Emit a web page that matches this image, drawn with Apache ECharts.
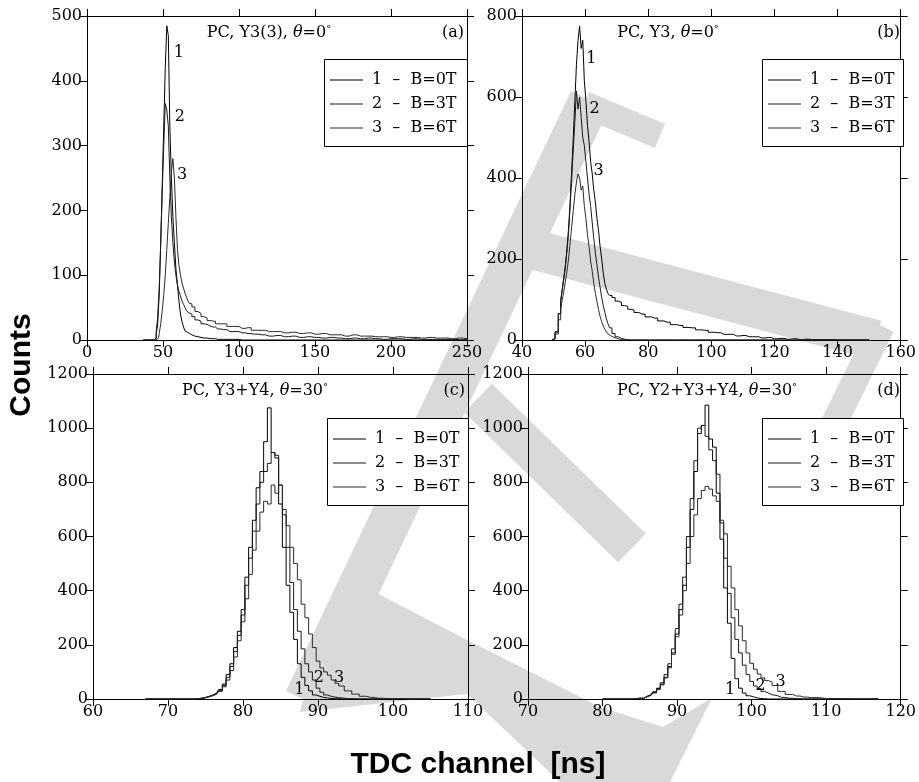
<!DOCTYPE html>
<html><head><meta charset="utf-8">
<script src="https://cdn.jsdelivr.net/npm/echarts@6/dist/echarts.min.js"></script>
<style>html,body{margin:0;padding:0;background:#fff}#c{width:919px;height:782px}</style>
</head><body><div id="c"></div>
<script>
// ---------- data ----------
const seriesNames = ['1  \u2013  B=0T', '2  \u2013  B=3T', '3  \u2013  B=6T'];
const panelTitles = ['PC, Y3(3), ', 'PC, Y3, ', 'PC, Y3+Y4, ', 'PC, Y2+Y3+Y4, '];
const panelAngles = ['0', '0', '30', '30'];
const panelTags = ['(a)', '(b)', '(c)', '(d)'];
const xRanges = [[0, 250, 50], [40, 160, 20], [60, 110, 10], [70, 120, 10]];
const yRanges = [[0, 500, 100], [0, 800, 200], [0, 1200, 200], [0, 1200, 200]];

// panel (a)
const aX = [37,40,44,45,46,47,48,49,50,51,52,53,54,55,56,57,58,59,60,61,62,63,64,65,66,67,68,
  70,72,74,76,78,80, 83,86,90,94,98, 102,106,110,
  115,120,125,130,135,140,145,150,155,160,165,170,175,180,185,190,195,200,205,210,215,220,225,230,235,240,245,250];
const a1 = [0,0,0,2,8,25,70,150,240,330,420,485,470,330,250,190,150,110,85,60,40,28,20,14,12,10,8,
  6,5,4,3,3,2, 2,1,1,1,1, 0,0,0,
  0,0,0,0,0,0,0,0,0,0,0,0,0,0,0,0,0,0,0,0,0,0,0,0,0,0,0,0];
const a2 = [0,0,0,3,12,35,80,150,230,300,365,355,330,250,190,150,120,100,85,75,68,60,55,50,45,42,40,
  36,31,29,25,24,21, 20,17,16,13,13, 11,10,9,
  8,6,7,5,6,4,5,4,3,4,3,2,3,2,3,2,1,2,2,1,2,1,1,1,1,1,0,1];
const a3 = [0,0,0,0,0,3,10,25,45,70,100,140,180,220,260,280,250,190,140,115,100,88,80,72,66,60,56,
  51,44,41,36,34,30, 29,25,25,21,21, 18,19,15,
  15,13,13,11,12,10,11,9,10,8,8,6,8,6,6,5,5,4,5,4,4,3,4,3,3,2,3,2];

// panel (b)
const bX = [49.5,50,51,52,
  52.5,53,53.5,54,54.5,55,55.5,56,56.5,57,57.5,58,58.5,59,59.5,60,60.5,61,61.5,62,62.5,63,63.5,64,64.5,65,65.5,66,66.5,67,67.5,68,
  69,70,71,72,73,74,75,76,
  78,80,82,84,86,88,90,92,94,96,98,100,102,104,106,108,110,112,114,116,118,120,122,124,126,128,130,132,134,136,138,140,142,144,146,148,150];
const b1 = [0,4,20,65,
  95,125,155,185,225,275,340,420,500,590,680,740,775,720,740,640,590,530,490,440,410,370,340,300,270,230,200,165,140,125,115,110,
  105,96,93,85,83,76,74,68,
  64,57,54,47,44,38,36,31,30,25,24,19,18,14,14,10,11,8,8,5,6,3,4,2,3,1,2,1,1,1,1,0,0,0,0,0,0];
const b2 = [0,4,20,65,
  95,125,150,180,220,265,330,400,470,540,615,570,600,550,500,480,440,400,360,330,290,250,215,185,155,130,105,85,68,52,40,30,
  16,8,4,2,1,0,0,0,
  0,0,0,0,0,0,0,0,0,0,0,0,0,0,0,0,0,0,0,0,0,0,0,0,0,0,0,0,0,0,0,0,0,0,0,0,0];
const b3 = [0,3,15,50,
  75,100,120,145,170,200,240,280,320,360,390,410,400,370,380,330,300,260,230,195,170,140,115,95,75,58,45,35,27,20,15,11,
  7,4,2,1,0,0,0,0,
  0,0,0,0,0,0,0,0,0,0,0,0,0,0,0,0,0,0,0,0,0,0,0,0,0,0,0,0,0,0,0,0,0,0,0,0,0];

// panel (c)
const cX = [67,70,72,73,
  74,74.5,75,75.5,76,76.5,77,77.5,78,78.5,79,79.5,80,80.5,81,81.5,82,82.5,83,83.5,
  84,84.5,85,85.5,86,86.5,87,87.5,88,88.5,89,89.5,90,90.5,91,91.5,92,92.5,93,
  94,95,96,97,98,99,100,101,102,103,105];
const c1 = [0,0,0,0,
  1,3,6,10,15,22,35,55,90,130,190,250,330,450,560,660,780,840,950,1075,
  910,890,720,560,420,320,220,130,80,50,30,15,10,6,4,2,1,1,0,
  0,0,0,0,0,0,0,0,0,0,0];
const c2 = [0,0,0,0,
  1,3,5,9,14,20,32,50,80,120,175,235,310,420,520,620,720,800,840,870,
  910,900,790,680,560,430,330,250,185,130,100,70,40,25,15,10,7,5,3,
  1,0,0,0,0,0,0,0,0,0,0];
const c3 = [0,0,0,0,
  1,2,4,8,12,18,28,45,70,105,155,215,285,370,460,550,620,690,730,720,
  790,760,790,700,640,560,500,440,350,300,240,190,140,115,100,88,70,58,48,
  30,18,10,6,3,2,1,1,0,0,0];

// panel (d)
const dX = [80,83,85,
  86,86.5,87,87.5,88,88.5,89,89.5,90,90.5,91,91.5,92,92.5,93,93.5,94,94.5,95,95.5,
  96,96.5,97,97.5,98,98.5,99,99.5,100,100.5,101,101.5,102,102.5,103,
  104,105,106,107,108,110,112,114,117];
const d1 = [0,0,3,
  10,15,25,38,55,80,120,170,240,330,420,560,700,840,980,1010,1085,960,930,760,
  590,410,280,150,75,40,22,12,8,4,2,1,0,0,0,
  0,0,0,0,0,0,0,0,0];
const d2 = [0,0,3,
  10,16,27,40,60,90,130,185,260,350,450,600,740,880,1000,1010,970,920,880,830,
  650,520,390,300,220,170,125,90,65,48,38,28,22,16,12,
  6,3,1,0,0,0,0,0,0];
const d3 = [0,0,2,
  8,13,22,35,52,78,115,165,230,310,400,500,600,680,740,770,785,775,750,730,
  660,610,490,410,330,270,215,170,132,110,92,78,68,62,50,
  28,17,11,7,5,2,1,0,0];

// peak-label positions [x, y] per panel per curve (data units)
const peakLabels = [
  [[60.5, 443], [61, 345], [62.5, 255]],
  [[62, 694], [63, 570], [64.3, 417]],
  [[87.5, 33], [90.1, 78], [92.8, 78]],
  [[97.1, 33], [101.2, 48], [103.9, 63]]
];

const panelData = [
  [aX, [a1, a2, a3]],
  [bX, [b1, b2, b3]],
  [cX, [c1, c2, c3]],
  [dX, [d1, d2, d3]]
];

// ---------- layout ----------
const SERIF = 'DejaVu Serif';
const grids = [
  {left: 87, top: 16, width: 380, height: 324},
  {left: 522, top: 16, width: 381, height: 324},
  {left: 93, top: 374, width: 375, height: 325},
  {left: 528, top: 374, width: 375, height: 325}
];
const lineColors = ['#000', '#1a1a1a', '#2a2a2a'];

const xAxes = [], yAxes = [], series = [], legends = [], graphics = [];
grids.forEach((g, p) => {
  const common = (r) => ({
    type: 'value', gridIndex: p, min: r[0], max: r[1], interval: r[2], z: 3,
    axisLine: {show: true, onZero: false, lineStyle: {color: '#000', width: 1}},
    axisTick: {show: true, inside: false, length: 7, lineStyle: {color: '#000', width: 1}},
    splitLine: {show: false},
    axisLabel: {show: true, fontFamily: SERIF, fontSize: 16, color: '#000', margin: 5,
      showMinLabel: true, showMaxLabel: true, formatter: (v) => String(v)}
  });
  const xb = common(xRanges[p]); xb.position = 'bottom';
  const xt = common(xRanges[p]); xt.position = 'top'; xt.axisLabel = {show: false};
  const yl = common(yRanges[p]); yl.position = 'left';
  const yr = common(yRanges[p]); yr.position = 'right'; yr.axisLabel = {show: false};
  xAxes.push(xb, xt); yAxes.push(yl, yr);

  const [xs, ys] = panelData[p];
  ys.forEach((vals, k) => {
    series.push({
      type: 'line', name: seriesNames[k], xAxisIndex: 2 * p, yAxisIndex: 2 * p,
      data: xs.map((x, i) => [x, vals[i]]),
      step: 'middle', showSymbol: false, symbol: 'none', z: 4,
      lineStyle: {color: lineColors[k], width: 1}, itemStyle: {color: lineColors[k]},
      emphasis: {disabled: true}, animation: false,
      markPoint: {
        symbol: 'circle', symbolSize: 0, silent: true, animation: false,
        data: [{coord: peakLabels[p][k], value: String(k + 1),
          label: {show: true, position: 'inside', formatter: String(k + 1), fontFamily: SERIF, fontSize: 16, color: '#000'}}]
      }
    });
  });

  // legend box and legend
  const boxW = 141, boxH = 87;
  const boxLeft = g.left + g.width - boxW - (p === 0 ? 2 : 0);
  const boxTop = g.top + (p < 2 ? 43 : 44);
  graphics.push({type: 'rect', z: 5, shape: {x: boxLeft + 0.5, y: boxTop + 0.5, width: g.left + g.width - boxLeft, height: boxH},
    style: {fill: '#fff', stroke: '#000', lineWidth: 1}});
  legends.push({
    orient: 'vertical', left: boxLeft + 6, top: boxTop + 12, z: 6, padding: 0,
    data: seriesNames, icon: 'rect', itemWidth: 33, itemHeight: 1.2, itemGap: 6,
    selectedMode: false,
    textStyle: {fontFamily: SERIF, fontSize: 16, color: '#000', lineHeight: 18, padding: [0, 0, 0, 4]}
  });

  // panel title and tag
  const cx = [269, 668, 255, 707][p];
  const ty = g.top + 17;
  graphics.push({type: 'text', z: 7, style: {
    x: cx, y: ty, align: 'center', verticalAlign: 'middle',
    text: '{n|' + panelTitles[p] + '}{i|\u03b8}{n|=' + panelAngles[p] + '}{s|\u00b0}',
    rich: {n: {fontFamily: SERIF, fontSize: 16, fill: '#000'},
           i: {fontFamily: SERIF, fontSize: 16, fontStyle: 'italic', fill: '#000'},
           s: {fontFamily: SERIF, fontSize: 10, fill: '#000', padding: [0, 0, 7, 0]}}
  }});
  graphics.push({type: 'text', z: 7, style: {
    x: g.left + g.width - 3, y: ty, align: 'right', verticalAlign: 'middle',
    text: panelTags[p], font: '16px "DejaVu Serif"', fill: '#000'}});
});

// watermark (light grey shapes behind the plots)
const wmColor = '#d9d9d9';
const wmStrokes = [
  {pts: [[584, 104], [660, 136]], w: 26},
  {pts: [[590, 100], [305, 700]], w: 42},
  {pts: [[528, 248], [876, 340]], w: 40},
  {pts: [[882, 326], [806, 480]], w: 26},
  {pts: [[478, 398], [632, 548]], w: 40}
];
wmStrokes.forEach(s => graphics.push({type: 'polyline', z: 1, silent: true,
  shape: {points: s.pts}, style: {stroke: wmColor, fill: null, lineCap: 'butt', lineJoin: 'round', lineWidth: s.w}}));
graphics.push({type: 'polygon', z: 1, silent: true,
  shape: {points: [[330, 600], [367, 588], [467, 640], [600, 707], [663, 727], [712, 698], [670, 782],
                   [560, 782], [467, 694], [300, 712]]},
  style: {fill: wmColor}});

// axis titles
graphics.push({type: 'text', z: 7, rotation: Math.PI / 2, x: 22, y: 365, style: {
  x: 0, y: 0, align: 'center', verticalAlign: 'middle', text: 'Counts',
  font: 'bold 30px "Liberation Sans", Arial, sans-serif', fill: '#000'}});
graphics.push({type: 'text', z: 7, style: {
  x: 478, y: 765, align: 'center', verticalAlign: 'middle', text: 'TDC channel  [ns]',
  font: 'bold 30px "Liberation Sans", Arial, sans-serif', fill: '#000'}});

const chart = echarts.init(document.getElementById('c'), null, {renderer: 'canvas'});
chart.setOption({
  animation: false,
  backgroundColor: '#fff',
  grid: grids.map(g => Object.assign({containLabel: false}, g)),
  xAxis: xAxes, yAxis: yAxes, series: series, legend: legends, graphic: graphics
});
</script></body></html>
